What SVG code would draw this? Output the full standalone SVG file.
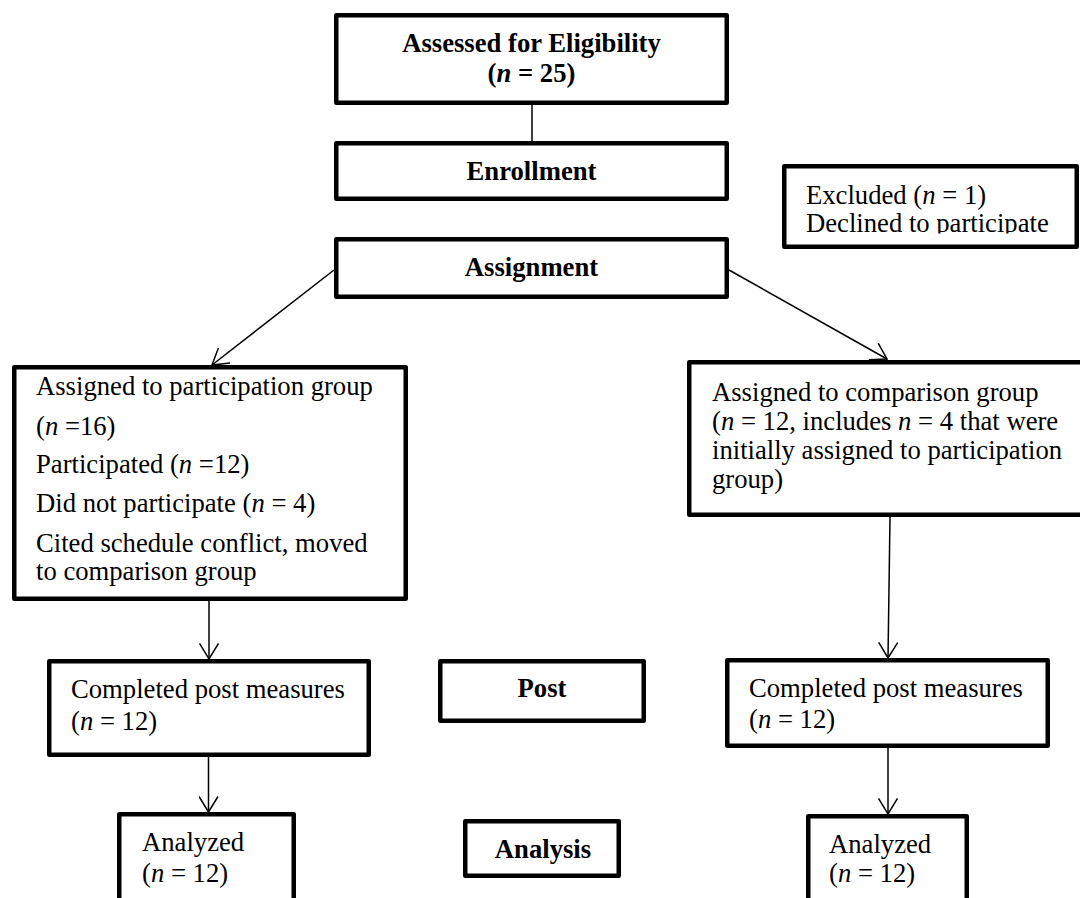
<svg xmlns="http://www.w3.org/2000/svg" width="1080" height="898" viewBox="0 0 1080 898">
<style>
.box{fill:#fff;stroke:#000;stroke-width:4.5;stroke-linejoin:round}
.t{font-family:"Liberation Serif","Times New Roman",serif;font-size:26.67px;fill:#000}
.b{font-weight:bold}
.c{text-anchor:middle}
.i{font-style:italic}
.ln{stroke:#000;stroke-width:1.5;fill:none}
</style>
<defs>
<marker id="arr" viewBox="0 0 17 20" refX="16" refY="10" markerWidth="17" markerHeight="20" markerUnits="userSpaceOnUse" orient="auto">
<path d="M0.5,0.5 L16,10 L0.5,19.5" fill="none" stroke="#000" stroke-width="1.5"/>
</marker>
<clipPath id="exclip"><rect x="784" y="166" width="292" height="67.5"/></clipPath>
</defs>
<rect width="1080" height="898" fill="#fff"/>

<g id="connectors">
<line class="ln" x1="532" y1="105" x2="532" y2="141"/>
<line class="ln" x1="334" y1="270" x2="212" y2="365" marker-end="url(#arr)"/>
<line class="ln" x1="729" y1="270" x2="887" y2="359" marker-end="url(#arr)"/>
<line class="ln" x1="209" y1="601" x2="209" y2="659" marker-end="url(#arr)"/>
<line class="ln" x1="208.5" y1="757" x2="208.5" y2="812" marker-end="url(#arr)"/>
<line class="ln" x1="890" y1="517" x2="888" y2="658" marker-end="url(#arr)"/>
<line class="ln" x1="888" y1="748" x2="888" y2="814" marker-end="url(#arr)"/>
</g>

<g id="assessed">
<rect class="box" x="336.25" y="15.25" width="390.5" height="87.5"/>
<text class="t b c" x="531.5" y="52">Assessed for Eligibility</text>
<text class="t b c" x="531.5" y="82">(<tspan class="i">n</tspan> = 25)</text>
</g>

<g id="enrollment">
<rect class="box" x="336.25" y="143.25" width="390.5" height="55.5"/>
<text class="t b c" x="531.5" y="180">Enrollment</text>
</g>

<g id="excluded">
<rect class="box" x="784.25" y="166.25" width="292.5" height="80.5"/>
<g clip-path="url(#exclip)">
<text class="t" x="806" y="204">Excluded (<tspan class="i">n</tspan> = 1)</text>
<text class="t" x="806" y="231.7">Declined to participate</text>
</g>
</g>

<g id="assignment">
<rect class="box" x="336.25" y="239.25" width="390.5" height="57.5"/>
<text class="t b c" x="531.5" y="276">Assignment</text>
</g>

<g id="participation">
<rect class="box" x="14.25" y="367.25" width="391.5" height="231.5"/>
<text class="t" x="36" y="395">Assigned to participation group</text>
<text class="t" x="36" y="435">(<tspan class="i">n</tspan> =16)</text>
<text class="t" x="36" y="473">Participated (<tspan class="i">n</tspan> =12)</text>
<text class="t" x="36" y="512">Did not participate (<tspan class="i">n</tspan> = 4)</text>
<text class="t" x="36" y="552">Cited schedule conflict, moved</text>
<text class="t" x="36" y="580">to comparison group</text>
</g>

<g id="comparison">
<rect class="box" x="689.25" y="362.25" width="400" height="152.5"/>
<text class="t" x="712" y="401">Assigned to comparison group</text>
<text class="t" x="712" y="430">(<tspan class="i">n</tspan> = 12, includes <tspan class="i">n</tspan> = 4 that were</text>
<text class="t" x="712" y="459">initially assigned to participation</text>
<text class="t" x="712" y="488">group)</text>
</g>

<g id="post-left">
<rect class="box" x="49.25" y="661.25" width="319.5" height="93.5"/>
<text class="t" x="71" y="698">Completed post measures</text>
<text class="t" x="71" y="730">(<tspan class="i">n</tspan> = 12)</text>
</g>

<g id="post">
<rect class="box" x="440.25" y="661.25" width="203.5" height="59.5"/>
<text class="t b c" x="542" y="697">Post</text>
</g>

<g id="post-right">
<rect class="box" x="727.25" y="660.25" width="320.5" height="85.5"/>
<text class="t" x="749" y="697">Completed post measures</text>
<text class="t" x="749" y="728">(<tspan class="i">n</tspan> = 12)</text>
</g>

<g id="analyzed-left">
<rect class="box" x="119.25" y="814.25" width="174.5" height="100"/>
<text class="t" x="142" y="851">Analyzed</text>
<text class="t" x="142" y="882">(<tspan class="i">n</tspan> = 12)</text>
</g>

<g id="analysis">
<rect class="box" x="465.25" y="821.25" width="153.5" height="54.5"/>
<text class="t b c" x="543" y="858">Analysis</text>
</g>

<g id="analyzed-right">
<rect class="box" x="808.25" y="816.25" width="158.5" height="100"/>
<text class="t" x="829" y="853">Analyzed</text>
<text class="t" x="829" y="882">(<tspan class="i">n</tspan> = 12)</text>
</g>
</svg>
